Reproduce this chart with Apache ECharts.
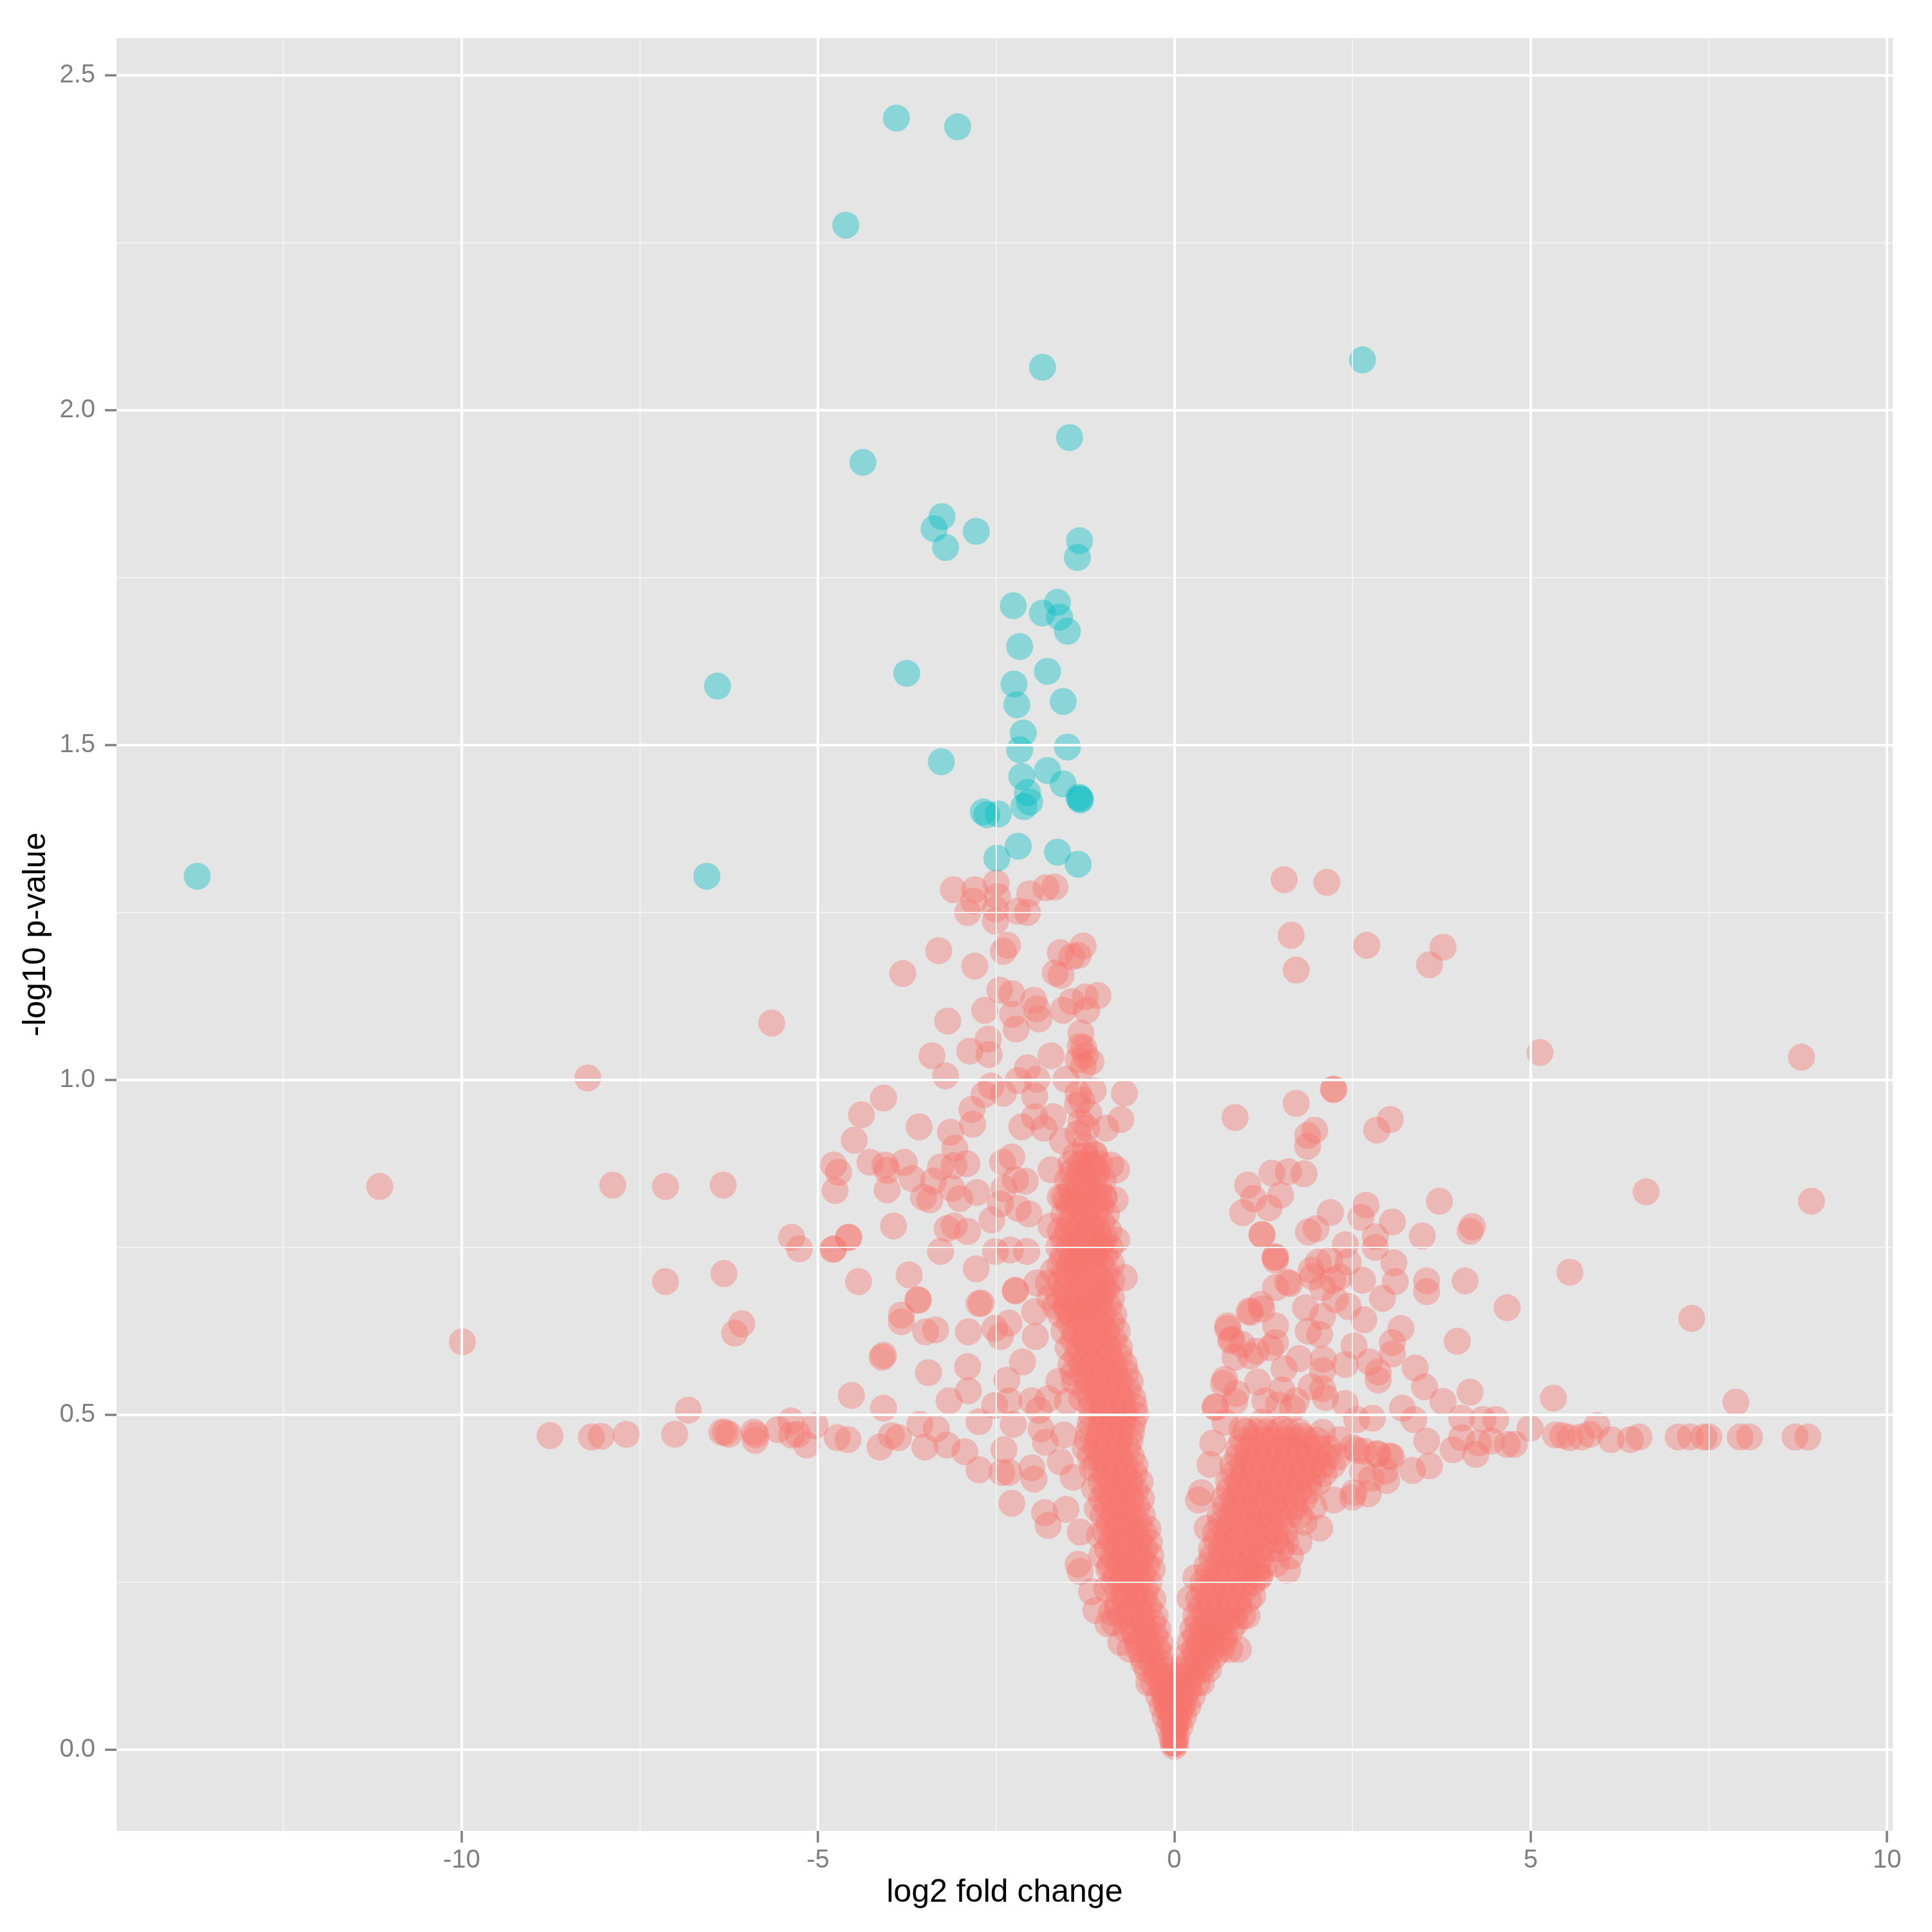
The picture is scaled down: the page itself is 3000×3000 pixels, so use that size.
<!DOCTYPE html>
<html>
<head>
<meta charset="utf-8">
<script src="https://cdn.jsdelivr.net/npm/echarts@6/dist/echarts.min.js"></script>
<style>
html, body { margin: 0; padding: 0; background: #ffffff; }
#volcano { width: 3000px; height: 3000px; }
</style>
</head>
<body>
<div id="volcano"></div>
<script>
// axis ticks and grid lines
var xTicks = [-10, -5, 0, 5, 10];
var xMinor = [-12.5, -7.5, -2.5, 2.5, 7.5];
var yTicks = [0, 0.5, 1, 1.5, 2, 2.5];
var yMinor = [0.25, 0.75, 1.25, 1.75, 2.25];

// significant genes (blue), [log2 fold change, -log10 p]
var sigPoints = [
    [-13.71,1.304],[-6.56,1.304],[-6.41,1.588],[-4.61,2.276],[-3.9,2.436],[-3.04,2.423],[-4.37,1.922],
    [-3.755,1.607],[-3.37,1.823],[-3.26,1.841],[-3.21,1.795],[-2.78,1.819],[-3.27,1.475],[-1.85,2.064],
    [-1.47,1.959],[-1.33,1.805],[-1.36,1.78],[-2.26,1.708],[-1.85,1.697],[-1.64,1.713],[-1.61,1.691],
    [-1.5,1.67],[-2.17,1.647],[-1.78,1.61],[-2.25,1.591],[-2.21,1.56],[-1.56,1.565],[-2.12,1.518],
    [-2.17,1.493],[-1.5,1.497],[-1.78,1.462],[-2.14,1.453],[-1.56,1.442],[-2.06,1.429],[-2.03,1.415],
    [-2.11,1.408],[-1.32,1.42],[-1.32,1.418],[-1.34,1.422],[-2.68,1.4],[-2.63,1.396],[-2.47,1.397],
    [-2.19,1.349],[-2.49,1.331],[-1.64,1.34],[-1.35,1.322],[2.64,2.075]
];

// not significant (red): dense left arm of the V
var coreLeft = [
    [0,0.005],[0,0.01],[-0.02,0.01],[0,0.02],[-0.04,0.02],[-0.01,0.035],[-0.08,0.035],
    [-0.02,0.05],[-0.13,0.05],[-0.03,0.065],[-0.1,0.065],[-0.17,0.065],
    [-0.05,0.08],[-0.13,0.08],[-0.22,0.08],[-0.08,0.1],[-0.19,0.1],[-0.3,0.1],
    [-0.12,0.12],[-0.25,0.12],[-0.38,0.12],[-0.16,0.14],[-0.3,0.14],[-0.45,0.14],
    [-0.2,0.16],[-0.36,0.16],[-0.52,0.16],[-0.23,0.18],[-0.4,0.18],[-0.58,0.18],
    [-0.27,0.2],[-0.44,0.2],[-0.62,0.2],[-0.3,0.225],[-0.43,0.225],[-0.56,0.225],[-0.7,0.225],
    [-0.35,0.25],[-0.48,0.25],[-0.61,0.25],[-0.74,0.25],[-0.85,0.25],
    [-0.38,0.275],[-0.51,0.275],[-0.64,0.275],[-0.77,0.275],[-0.9,0.275],
    [-0.41,0.3],[-0.54,0.3],[-0.67,0.3],[-0.8,0.3],[-0.94,0.3],
    [-0.43,0.325],[-0.56,0.325],[-0.7,0.325],[-0.84,0.325],[-0.97,0.325],
    [-0.45,0.35],[-0.58,0.35],[-0.72,0.35],[-0.86,0.35],[-1,0.35],
    [-0.46,0.375],[-0.6,0.375],[-0.74,0.375],[-0.88,0.375],[-1.02,0.375],
    [-0.48,0.4],[-0.62,0.4],[-0.76,0.4],[-0.9,0.4],[-1.03,0.4],
    [-0.55,0.425],[-0.69,0.425],[-0.83,0.425],[-0.97,0.425],[-1.1,0.425],
    [-0.65,0.45],[-0.8,0.45],[-0.95,0.45],[-1.1,0.45],[-1.25,0.45],
    [-0.6,0.475],[-0.75,0.475],[-0.9,0.475],[-1.05,0.475],[-1.2,0.475],
    [-0.54,0.5],[-0.7,0.5],[-0.86,0.5],[-1.01,0.5],[-1.16,0.5],
    [-0.58,0.525],[-0.73,0.525],[-0.88,0.525],[-1.03,0.525],[-1.17,0.525],[-1.3,0.525],
    [-0.62,0.55],[-0.77,0.55],[-0.92,0.55],[-1.07,0.55],[-1.23,0.55],[-1.4,0.55],
    [-0.7,0.575],[-0.85,0.575],[-1,0.575],[-1.15,0.575],[-1.3,0.575],[-1.45,0.575],
    [-0.77,0.6],[-0.92,0.6],[-1.06,0.6],[-1.2,0.6],[-1.35,0.6],[-1.49,0.6],
    [-0.8,0.625],[-0.95,0.625],[-1.1,0.625],[-1.25,0.625],[-1.4,0.625],[-1.55,0.625],
    [-0.85,0.65],[-1,0.65],[-1.15,0.65],[-1.3,0.65],[-1.45,0.65],[-1.6,0.65],
    [-0.88,0.675],[-1.03,0.675],[-1.18,0.675],[-1.33,0.675],[-1.48,0.675],[-1.62,0.675],[-1.75,0.675],
    [-0.88,0.7],[-1.03,0.7],[-1.18,0.7],[-1.33,0.7],[-1.47,0.7],[-1.6,0.7],
    [-0.88,0.725],[-1.03,0.725],[-1.18,0.725],[-1.33,0.725],[-1.47,0.725],[-1.6,0.725],
    [-0.9,0.75],[-1.05,0.75],[-1.2,0.75],[-1.35,0.75],[-1.49,0.75],[-1.62,0.75],
    [-0.92,0.775],[-1.07,0.775],[-1.22,0.775],[-1.37,0.775],[-1.5,0.775],[-1.6,0.775],
    [-0.95,0.8],[-1.1,0.8],[-1.25,0.8],[-1.4,0.8],[-1.55,0.8],
    [-0.98,0.825],[-1.12,0.825],[-1.27,0.825],[-1.41,0.825],[-1.55,0.825],
    [-1,0.85],[-1.13,0.85],[-1.25,0.85],[-1.38,0.85],[-1.5,0.85],
    [-1.05,0.875],[-1.18,0.875],[-1.32,0.875],[-1.45,0.875],
    [-1.25,0.9],[-1.35,0.92],[-1.2,0.95],[-1.3,0.97],[-1.28,1.02],[-1.32,1.05],[-1.35,1.03]
];

// in-between rows of the left arm
var coreLeftFill = [
    [0,0.03],[0,0.045],[-0.05,0.042],[0.01,0.058],[-0.07,0.058],[-0.12,0.072],[-0.04,0.072],
    [-0.09,0.09],[-0.17,0.09],[-0.02,0.09],[-0.25,0.11],[-0.14,0.11],[-0.04,0.11],
    [-0.19,0.13],[-0.32,0.13],[-0.43,0.13],[-0.23,0.15],[-0.37,0.15],[-0.5,0.15],
    [-0.27,0.17],[-0.41,0.17],[-0.55,0.17],[-0.3,0.19],[-0.45,0.19],[-0.6,0.19],
    [-0.36,0.2125],[-0.5,0.2125],[-0.64,0.2125],[-0.4,0.2375],[-0.54,0.2375],[-0.68,0.2375],[-0.8,0.2375],
    [-0.44,0.2625],[-0.57,0.2625],[-0.7,0.2625],[-0.83,0.2625],
    [-0.46,0.2875],[-0.6,0.2875],[-0.73,0.2875],[-0.86,0.2875],
    [-0.48,0.3125],[-0.62,0.3125],[-0.75,0.3125],[-0.88,0.3125],
    [-0.5,0.3375],[-0.64,0.3375],[-0.78,0.3375],[-0.92,0.3375],
    [-0.52,0.3625],[-0.66,0.3625],[-0.8,0.3625],[-0.94,0.3625],
    [-0.54,0.3875],[-0.68,0.3875],[-0.82,0.3875],[-0.96,0.3875],
    [-0.56,0.4125],[-0.7,0.4125],[-0.84,0.4125],[-0.98,0.4125],
    [-0.6,0.4375],[-0.75,0.4375],[-0.9,0.4375],[-1.04,0.4375],[-1.18,0.4375],
    [-0.62,0.4625],[-0.77,0.4625],[-0.92,0.4625],[-1.07,0.4625],[-1.22,0.4625],
    [-0.58,0.4875],[-0.72,0.4875],[-0.88,0.4875],[-1.03,0.4875],[-1.18,0.4875],
    [-0.56,0.5125],[-0.71,0.5125],[-0.86,0.5125],[-1.01,0.5125],[-1.16,0.5125],
    [-0.65,0.5375],[-0.8,0.5375],[-0.95,0.5375],[-1.1,0.5375],[-1.25,0.5375],
    [-0.68,0.5625],[-0.83,0.5625],[-0.98,0.5625],[-1.13,0.5625],[-1.28,0.5625],[-1.42,0.5625],
    [-0.77,0.5875],[-0.92,0.5875],[-1.07,0.5875],[-1.22,0.5875],[-1.37,0.5875],
    [-0.85,0.6125],[-1,0.6125],[-1.14,0.6125],[-1.28,0.6125],[-1.42,0.6125],
    [-0.88,0.6375],[-1.03,0.6375],[-1.18,0.6375],[-1.32,0.6375],[-1.47,0.6375],
    [-0.92,0.6625],[-1.07,0.6625],[-1.22,0.6625],[-1.37,0.6625],[-1.52,0.6625],[-1.67,0.6625],
    [-0.95,0.6875],[-1.1,0.6875],[-1.25,0.6875],[-1.4,0.6875],[-1.54,0.6875],
    [-0.95,0.7125],[-1.1,0.7125],[-1.25,0.7125],[-1.4,0.7125],[-1.54,0.7125],
    [-0.97,0.7375],[-1.12,0.7375],[-1.27,0.7375],[-1.42,0.7375],[-1.56,0.7375],
    [-0.98,0.7625],[-1.13,0.7625],[-1.28,0.7625],[-1.43,0.7625],[-1.56,0.7625],
    [-1.02,0.7875],[-1.17,0.7875],[-1.32,0.7875],[-1.47,0.7875],
    [-1.03,0.8125],[-1.18,0.8125],[-1.33,0.8125],[-1.48,0.8125],
    [-1.06,0.8375],[-1.2,0.8375],[-1.34,0.8375],[-1.46,0.8375],
    [-1.08,0.8625],[-1.2,0.8625],[-1.32,0.8625],[-1.44,0.8625],
    [-1.12,0.8875],[-1.25,0.8875],[-1.38,0.8875]
];

// dense right arm of the V
var coreRight = [
    [0.02,0.01],[0.03,0.02],[0.02,0.035],[0.08,0.035],[0.03,0.05],[0.13,0.05],
    [0.04,0.065],[0.12,0.065],[0.19,0.065],[0.05,0.08],[0.15,0.08],[0.25,0.08],
    [0.08,0.1],[0.2,0.1],[0.32,0.1],[0.12,0.12],[0.25,0.12],[0.38,0.12],[0.48,0.12],
    [0.17,0.14],[0.3,0.14],[0.43,0.14],[0.56,0.14],
    [0.22,0.16],[0.35,0.16],[0.48,0.16],[0.6,0.16],[0.7,0.16],
    [0.26,0.18],[0.39,0.18],[0.52,0.18],[0.65,0.18],[0.8,0.18],
    [0.3,0.2],[0.43,0.2],[0.56,0.2],[0.7,0.2],[0.84,0.2],[0.96,0.2],
    [0.34,0.225],[0.48,0.225],[0.62,0.225],[0.76,0.225],[0.9,0.225],[1.04,0.225],
    [0.4,0.25],[0.54,0.25],[0.68,0.25],[0.82,0.25],[0.96,0.25],[1.1,0.25],
    [0.46,0.275],[0.6,0.275],[0.74,0.275],[0.88,0.275],[1.02,0.275],[1.16,0.275],[1.25,0.275],
    [0.52,0.3],[0.66,0.3],[0.8,0.3],[0.94,0.3],[1.08,0.3],[1.22,0.3],[1.36,0.3],
    [0.58,0.325],[0.72,0.325],[0.86,0.325],[1,0.325],[1.14,0.325],[1.28,0.325],[1.42,0.325],[1.55,0.325],
    [0.64,0.35],[0.78,0.35],[0.92,0.35],[1.06,0.35],[1.2,0.35],[1.34,0.35],[1.48,0.35],[1.62,0.35],
    [0.7,0.375],[0.84,0.375],[0.98,0.375],[1.12,0.375],[1.26,0.375],[1.4,0.375],[1.54,0.375],[1.68,0.375],[1.82,0.375],
    [0.76,0.4],[0.9,0.4],[1.04,0.4],[1.18,0.4],[1.32,0.4],[1.46,0.4],[1.6,0.4],[1.74,0.4],[1.88,0.4],[2.02,0.4],
    [0.82,0.425],[0.96,0.425],[1.1,0.425],[1.24,0.425],[1.38,0.425],[1.52,0.425],[1.66,0.425],[1.8,0.425],[1.94,0.425],[2.08,0.425],[2.22,0.425],
    [0.9,0.45],[1.04,0.45],[1.18,0.45],[1.32,0.45],[1.46,0.45],[1.6,0.45],[1.74,0.45],[1.88,0.45],[2.02,0.45],[2.16,0.45],
    [1,0.475],[1.15,0.475],[1.3,0.475],[1.45,0.475],[1.6,0.475],[1.75,0.475]
];

// in-between rows of the right arm
var coreRightFill = [
    [0.05,0.042],[0.08,0.058],[0.02,0.072],[0.1,0.072],[0.2,0.09],[0.1,0.09],[0.04,0.09],
    [0.14,0.11],[0.26,0.11],[0.05,0.11],
    [0.2,0.13],[0.33,0.13],[0.46,0.13],[0.28,0.15],[0.41,0.15],[0.54,0.15],[0.66,0.15],
    [0.3,0.17],[0.43,0.17],[0.56,0.17],[0.7,0.17],[0.33,0.19],[0.46,0.19],[0.59,0.19],[0.72,0.19],[0.86,0.19],
    [0.37,0.2125],[0.5,0.2125],[0.63,0.2125],[0.77,0.2125],[0.91,0.2125],
    [0.41,0.2375],[0.55,0.2375],[0.69,0.2375],[0.83,0.2375],[0.97,0.2375],
    [0.47,0.2625],[0.61,0.2625],[0.75,0.2625],[0.89,0.2625],[1.03,0.2625],[1.16,0.2625],
    [0.53,0.2875],[0.67,0.2875],[0.81,0.2875],[0.95,0.2875],[1.09,0.2875],[1.22,0.2875],
    [0.59,0.3125],[0.73,0.3125],[0.87,0.3125],[1.01,0.3125],[1.15,0.3125],[1.29,0.3125],[1.42,0.3125],
    [0.65,0.3375],[0.79,0.3375],[0.93,0.3375],[1.07,0.3375],[1.21,0.3375],[1.35,0.3375],[1.49,0.3375],
    [0.71,0.3625],[0.85,0.3625],[0.99,0.3625],[1.13,0.3625],[1.27,0.3625],[1.41,0.3625],[1.55,0.3625],[1.69,0.3625],
    [0.77,0.3875],[0.91,0.3875],[1.05,0.3875],[1.19,0.3875],[1.33,0.3875],[1.47,0.3875],[1.61,0.3875],[1.75,0.3875],[1.9,0.3875],
    [0.83,0.4125],[0.97,0.4125],[1.11,0.4125],[1.25,0.4125],[1.39,0.4125],[1.53,0.4125],[1.67,0.4125],[1.81,0.4125],[1.95,0.4125],[2.1,0.4125],
    [0.89,0.4375],[1.03,0.4375],[1.17,0.4375],[1.31,0.4375],[1.45,0.4375],[1.59,0.4375],[1.73,0.4375],[1.87,0.4375],[2.01,0.4375],[2.15,0.4375],[2.3,0.4375],
    [0.95,0.4625],[1.1,0.4625],[1.25,0.4625],[1.4,0.4625],[1.55,0.4625],[1.7,0.4625],[1.85,0.4625],[2,0.4625]
];

// looser points along the edges of both arms
var edgePoints = [
    [-0.36,0.1],[0.38,0.1],[-0.62,0.15],[0.78,0.15],[0.9,0.15],[-0.76,0.2],[-0.8,0.21],
    [-0.75,0.16],[-0.68,0.18],[-0.85,0.19],[-0.88,0.205],[-0.8,0.22],[-0.95,0.24],[-0.92,0.27],
    [-1.02,0.29],[-1.05,0.32],[-1.08,0.36],[-1.12,0.39],[-1.15,0.42],
    [-0.31,0.27],[-0.33,0.29],[-0.35,0.31],[-0.37,0.33],
    [1.5,0.3],[1.56,0.31],[1.76,0.35],[1.82,0.34],[1.02,0.2],[1.1,0.23],[1.2,0.26]
];

// scattered points, negative side
var leftPoints = [
    [-3.1,1.284],[-2.8,1.284],[-2.5,1.294],[-2.48,1.274],[-2.815,1.267],[-2.9,1.25],[-2.51,1.255],[-2.51,1.237],
    [-2.2,1.252],[-2.06,1.25],[-2.03,1.278],[-1.8,1.287],[-1.675,1.288],
    [-3.305,1.193],[-3.81,1.159],[-2.8,1.17],[-2.34,1.201],[-2.4,1.192],[-1.6,1.19],[-1.28,1.2],[-1.44,1.184],
    [-1.67,1.16],[-1.59,1.156],[-1.35,1.186],
    [-2.45,1.134],[-2.28,1.129],[-2.66,1.104],[-3.18,1.088],[-2.27,1.098],[-2.22,1.076],[-1.97,1.119],[-1.93,1.106],
    [-1.9,1.091],[-1.56,1.104],[-1.44,1.117],[-1.25,1.124],[-1.07,1.126],[-1.23,1.104],[-1.31,1.07],[-1.27,1.048],
    [-1.25,1.036],[-1.17,1.027],
    [-2.61,1.061],[-2.87,1.043],[-2.6,1.038],[-3.4,1.036],[-3.21,1.006],[-2.06,1.018],[-1.73,1.036],[-2.19,0.999],
    [-2.57,0.991],[-2.67,0.978],[-2.4,0.98],[-1.93,1.001],[-1.96,0.976],[-1.52,1.001],[-1.35,0.98],[-1.14,0.984],
    [-0.7,0.98],[-0.75,0.941],
    [-4.08,0.973],[-4.39,0.948],[-4.49,0.91],[-3.58,0.93],[-2.84,0.956],[-2.83,0.934],[-3.14,0.922],[-3.08,0.898],
    [-2.14,0.93],[-1.96,0.945],[-1.83,0.928],[-1.57,0.909],[-1.7,0.945],[-1.36,0.963],[-1.31,0.937],[-1.23,0.928],
    [-0.96,0.928],[-1.12,0.89],[-1.14,0.873],[-0.89,0.873],[-0.81,0.866],
    [-4.78,0.873],[-4.71,0.862],[-4.27,0.877],[-4.06,0.873],[-3.79,0.877],[-4.03,0.865],[-4.76,0.835],[-4.03,0.836],
    [-3.68,0.853],[-3.28,0.87],[-3.09,0.872],[-2.91,0.875],[-3.38,0.849],[-3.52,0.825],[-3.43,0.821],[-3.12,0.838],
    [-3.01,0.823],[-2.77,0.832],[-2.41,0.877],[-2.28,0.885],[-2.23,0.851],[-2.09,0.849],[-2.39,0.838],[-2.44,0.815],
    [-2.19,0.808],[-2.04,0.8],[-1.73,0.866],[-1.51,0.821],[-1.6,0.825],[-1.38,0.817],[-0.99,0.825],[-0.83,0.821],
    [-1.73,0.782],[-1.15,0.778],[-0.81,0.761],[-1.02,0.757],[-1.31,0.748],[-1.7,0.714],[-1.77,0.697],[-1.38,0.727],
    [-1.12,0.739],[-0.99,0.688],[-0.7,0.705],[-1.51,0.658],[-1.22,0.662],
    [-2.07,0.744],[-2.3,0.746],[-2.51,0.744],[-2.56,0.791],[-3.09,0.782],[-3.19,0.778],[-2.9,0.774],[-3.94,0.782],
    [-4.57,0.765],[-4.78,0.748],[-3.28,0.744],[-2.78,0.718],[-3.72,0.709],[-4.43,0.699],[-3.6,0.672],[-2.74,0.666],
    [-2.23,0.686],[-3.83,0.649],[-1.93,0.697],[-1.96,0.654],
    [-3.59,0.671],[-3.83,0.639],[-3.49,0.624],[-3.35,0.627],[-4.08,0.589],[-4.1,0.586],[-3.45,0.563],[-4.08,0.51],
    [-4.13,0.452],[-3.97,0.469],[-3.87,0.466],[-3.57,0.486],[-3.5,0.452],[-3.34,0.479],[-3.19,0.455],[-3.16,0.521],
    [-2.89,0.536],[-2.9,0.572],[-2.71,0.667],[-2.89,0.624],[-2.44,0.617],[-2.52,0.629],[-2.32,0.637],[-2.23,0.685],
    [-2.13,0.579],[-1.95,0.617],[-2.35,0.552],[-2.74,0.49],[-2.52,0.514],[-2.32,0.521],[-2.26,0.486],[-2,0.521],
    [-1.9,0.507],[-1.77,0.524],[-1.87,0.479],[-1.81,0.459],[-2.94,0.445],[-2.74,0.418],[-2.39,0.448],[-2.42,0.414],
    [-2.32,0.414],[-2,0.421],[-1.97,0.404],[-2.28,0.368],[-1.82,0.354],[-1.77,0.335],[-1.52,0.359],[-1.42,0.407],
    [-1.32,0.325],[-1.35,0.277],[-1.32,0.266],[-1.16,0.236],[-1.1,0.208],[-0.93,0.188],
    [-1.62,0.55],[-1.55,0.47],[-1.6,0.43],[-1.5,0.52],
    [-8.76,0.469],[-8.18,0.467],[-8.04,0.468],[-7.69,0.471],[-7.01,0.471],[-6.82,0.507],[-6.35,0.474],[-6.3,0.474],
    [-6.25,0.471],[-5.9,0.474],[-5.87,0.47],[-5.88,0.462],[-5.56,0.478],[-5.38,0.491],[-5.37,0.47],[-5.28,0.471],
    [-5.16,0.455],[-5.04,0.484],[-4.73,0.466],[-4.58,0.463],[-4.53,0.529],[-6.17,0.622],[-6.07,0.636],
    [-7.14,0.699],[-6.32,0.711],[-5.37,0.765],[-5.26,0.748],[-4.79,0.747],[-4.57,0.765],
    [-11.15,0.841],[-9.99,0.609],[-8.23,1.003],[-7.88,0.843],[-7.14,0.841],[-6.33,0.843],[-5.65,1.085]
];

// scattered points, positive side
var rightPoints = [
    [0.853,0.944],[1.71,0.965],[2.24,0.986],[1.97,0.925],[1.87,0.917],[1.87,0.901],[2.84,0.925],[3.03,0.941],
    [1.37,0.861],[1.6,0.863],[1.82,0.86],[1.03,0.843],[1.49,0.828],[1.11,0.823],[1.33,0.809],[0.96,0.802],
    [1.23,0.769],[2.19,0.802],[2.69,0.813],[2.62,0.795],[3.06,0.788],[3.72,0.819],[4.18,0.781],[4.15,0.774],
    [3.48,0.767],[1.88,0.773],[1.99,0.778],[2.4,0.754],[2.82,0.766],[2.82,0.75],[1.42,0.736],[1.42,0.731],
    [2.02,0.728],[2.18,0.731],[2.44,0.728],[3.08,0.727],[1.94,0.706],[1.62,0.696],[1.42,0.69],[2.22,0.701],
    [2.64,0.701],[3.1,0.699],[3.54,0.7],[3.54,0.684],[4.08,0.7],[5.55,0.713],[2.92,0.674],[2.26,0.672],
    [1.21,0.665],[1.05,0.655],[1.84,0.66],[2.08,0.647],[2.44,0.662],[2.66,0.642],[4.67,0.66],[0.75,0.633],
    [0.81,0.613],[1.42,0.633],[1.42,0.608],[1.88,0.625],[2.04,0.62],[3.18,0.629],[3.97,0.61],[2.52,0.603],
    [3.06,0.608],[3.06,0.591],[0.85,0.586],[1.07,0.588],[1.54,0.569],[2.09,0.583],[2.08,0.566],[2.4,0.575],
    [2.74,0.579],[2.86,0.564],[2.86,0.552],[3.38,0.57],[0.69,0.547],[1.17,0.549],[2.08,0.539],[3.51,0.542],
    [4.15,0.534],[5.32,0.525],[2.4,0.517],[3.77,0.52],[0.57,0.512],[0.85,0.52],[1.46,0.515],[1.66,0.51],[3.2,0.51],
    [2.56,0.493],[2.78,0.495],[3.36,0.493],[4.03,0.495],[4.33,0.493],[4.51,0.493],[4.99,0.48],
    [4.03,0.466],[4.27,0.458],[4.45,0.461],[4.67,0.456],[4.77,0.456],[3.54,0.461],[3.91,0.448],[4.23,0.441],
    [3.58,0.424],[3.34,0.417],[2.98,0.402],[2.72,0.382],[2.5,0.377],[3.02,0.439],[2.86,0.441],[2.66,0.446],[2.5,0.451],
    [0.54,0.458],[0.5,0.426],[0.38,0.384],[0.34,0.373],[0.46,0.331],[0.3,0.257],[0.22,0.226],[1.19,0.257],
    [1.43,0.278],[1.63,0.289],[1.75,0.31],[2.04,0.331],[1.59,0.268],[1.96,0.363],[2.24,0.373],[2.52,0.384],
    [2.76,0.405],[2.96,0.416],[2.64,0.416],[2.32,0.463],[2.56,0.447],[2.84,0.442],[3.05,0.437],
    [0.58,0.511],[0.71,0.489],[0.95,0.479],[1.23,0.489],[1.51,0.479],[1.8,0.468],[2.08,0.474],
    [0.71,0.553],[0.87,0.532],[1.27,0.521],[1.51,0.537],[1.71,0.521],[1.92,0.542],[2.12,0.526],
    [0.79,0.611],[0.95,0.605],[1.15,0.595],[1.35,0.6],[1.75,0.584],[1.07,0.653],[0.75,0.629],[1.23,0.658],
    [1.92,0.716],[2.08,0.69],[2.32,0.706],[1.23,0.769],[1.41,0.735],[1.59,0.698],
    [1.54,1.299],[2.14,1.295],[1.64,1.216],[1.71,1.164],[2.7,1.201],[3.77,1.198],[3.58,1.172],[5.13,1.041],
    [8.8,1.034],[2.23,0.986],[6.62,0.833],[8.94,0.819],[7.26,0.644],[7.88,0.519]
];

// the row of points near 0.47 on the far right
var tailPoints = [
    [5.35,0.47],[5.45,0.469],[5.55,0.466],[5.71,0.467],[5.83,0.471],[5.93,0.484],[6.13,0.463],[6.4,0.463],
    [6.52,0.467],[7.07,0.467],[7.24,0.467],[7.43,0.467],[7.5,0.467],[7.94,0.467],[8.07,0.467],[8.71,0.467],[8.89,0.467]
];

var nsPoints = coreLeft.concat(coreLeftFill, coreRight, coreRightFill, edgePoints, leftPoints, rightPoints, tailPoints);

// background grid as mark lines (minor first, then major)
var gridLines = [];
xMinor.forEach(function (v) { gridLines.push({ xAxis: v, lineStyle: { color: '#F2F2F2', width: 2, type: 'solid' } }); });
yMinor.forEach(function (v) { gridLines.push({ yAxis: v, lineStyle: { color: '#F2F2F2', width: 2, type: 'solid' } }); });
xTicks.forEach(function (v) { gridLines.push({ xAxis: v, lineStyle: { color: '#FFFFFF', width: 4, type: 'solid' } }); });
yTicks.forEach(function (v) { gridLines.push({ yAxis: v, lineStyle: { color: '#FFFFFF', width: 4, type: 'solid' } }); });

var font = 'Liberation Sans, Arial, sans-serif';

var chart = echarts.init(document.getElementById('volcano'));

var option = {
    backgroundColor: '#FFFFFF',
    animation: false,
    grid: {
        left: 181,
        right: 61,
        top: 59,
        bottom: 157,
        show: true,
        backgroundColor: '#E5E5E5',
        borderWidth: 0
    },
    xAxis: {
        type: 'value',
        min: -14.842,
        max: 10.08,
        name: 'log2 fold change',
        nameLocation: 'middle',
        nameGap: 70,
        nameTextStyle: { fontSize: 50, color: '#000000', fontFamily: font },
        axisLine: { show: false, onZero: false },
        axisTick: { show: true, customValues: xTicks, length: 18, lineStyle: { color: '#7F7F7F', width: 3.5 } },
        axisLabel: { customValues: xTicks, color: '#7F7F7F', fontSize: 40, fontFamily: font, margin: 26 },
        splitLine: { show: false }
    },
    yAxis: {
        type: 'value',
        min: -0.1211,
        max: 2.5555,
        name: '-log10 p-value',
        nameLocation: 'middle',
        nameGap: 72,
        nameTextStyle: { fontSize: 50, color: '#000000', fontFamily: font },
        axisLine: { show: false, onZero: false },
        axisTick: { show: true, customValues: yTicks, length: 18, lineStyle: { color: '#7F7F7F', width: 3.5 } },
        axisLabel: {
            customValues: yTicks,
            color: '#7F7F7F',
            fontSize: 40,
            fontFamily: font,
            margin: 33,
            formatter: function (v) { return v.toFixed(1); }
        },
        splitLine: { show: false }
    },
    series: [
        {
            type: 'line',
            data: [],
            z: 1,
            silent: true,
            markLine: {
                silent: true,
                symbol: ['none', 'none'],
                label: { show: false },
                animation: false,
                lineStyle: { type: 'solid' },
                data: gridLines
            }
        },
        {
            type: 'scatter',
            data: nsPoints,
            z: 3,
            symbol: 'circle',
            symbolSize: 42,
            silent: true,
            itemStyle: { color: '#F8766D', opacity: 0.4 }
        },
        {
            type: 'scatter',
            data: sigPoints,
            z: 4,
            symbol: 'circle',
            symbolSize: 42,
            silent: true,
            itemStyle: { color: '#00BFC4', opacity: 0.4 }
        }
    ]
};

if (option && typeof option === 'object') {
    chart.setOption(option, true);
}
</script>
</body>
</html>
